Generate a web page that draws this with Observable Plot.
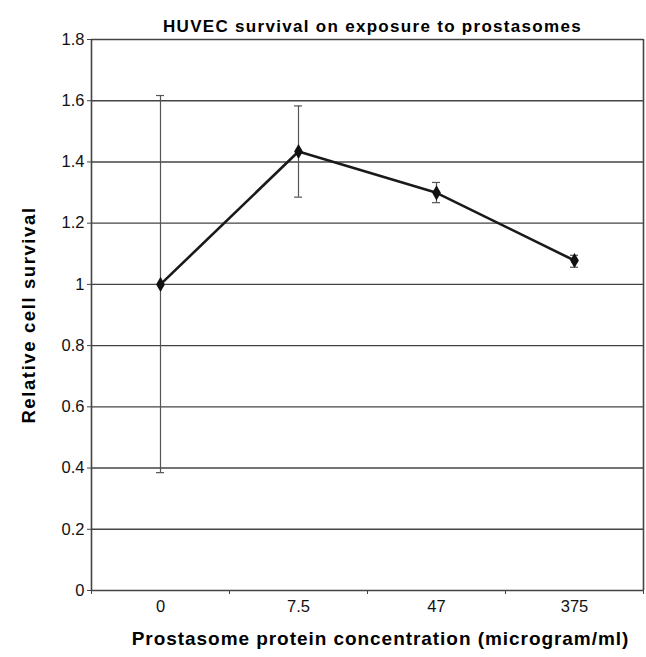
<!DOCTYPE html>
<html>
<head>
<meta charset="utf-8">
<script src="https://cdn.jsdelivr.net/npm/d3@7"></script>
<script src="https://cdn.jsdelivr.net/npm/@observablehq/plot@0.6"></script>
<style>
  html, body { margin: 0; padding: 0; background: #fff; }
  #chart svg { display: block; }
</style>
</head>
<body>
<div id="chart"></div>
<script>
const categories = ["0", "7.5", "47", "375"];
const survival = [1.0, 1.434, 1.299, 1.078];
const errLow = [0.385, 1.285, 1.267, 1.056];
const errHigh = [1.617, 1.583, 1.333, 1.095];
const yTicks = [0, 0.2, 0.4, 0.6, 0.8, 1, 1.2, 1.4, 1.6, 1.8];
const boundaryTicks = [-0.5, 0.5, 1.5, 2.5, 3.5];
const titleText = "HUVEC survival on exposure to prostasomes";
const xLabelText = "Prostasome protein concentration (microgram/ml)";
const yLabelText = "Relative cell survival";

const data = categories.map((c, i) => ({
  i, cat: c, y: survival[i], lo: errLow[i], hi: errHigh[i]
}));

const gray = "#444";
const font = "'Liberation Sans', Arial, sans-serif";

const chart = Plot.plot({
  width: 646,
  height: 657,
  marginLeft: 91,
  marginRight: 3,
  marginTop: 39,
  marginBottom: 67,
  style: { fontFamily: font, fontSize: "16px", color: "#111", background: "#fff" },
  x: { type: "linear", domain: [-0.5, 3.5] },
  y: { domain: [0, 1.8] },
  marks: [
    Plot.ruleY(yTicks, { stroke: gray, strokeWidth: 1.4 }),
    Plot.ruleX([-0.5], { stroke: gray, strokeWidth: 1.6 }),
    Plot.ruleX([3.5], { stroke: gray, strokeWidth: 1.6 }),
    Plot.axisY({
      ticks: yTicks, tickSize: 4, tickPadding: 3, stroke: gray,
      tickFormat: d => String(+d.toFixed(1)),
      label: null, fontSize: 16.5, fill: "#111"
    }),
    Plot.axisX({ ticks: boundaryTicks, tickSize: 4, tickFormat: () => "", stroke: gray, label: null }),
    Plot.axisX({ ticks: d3.range(categories.length), tickSize: 0, tickPadding: 10,
      tickFormat: i => categories[i], label: null, fontSize: 16.5, fill: "#111" }),
    Plot.ruleX(data, { x: "i", y1: "lo", y2: "hi", stroke: "#555", strokeWidth: 1.2 }),
    Plot.ruleY(data, { x1: "i", x2: "i", y: "lo", insetLeft: -4, insetRight: -4, stroke: "#555", strokeWidth: 1.2 }),
    Plot.ruleY(data, { x1: "i", x2: "i", y: "hi", insetLeft: -4, insetRight: -4, stroke: "#555", strokeWidth: 1.2 }),
    Plot.line(data, { x: "i", y: "y", stroke: "#1a1a1a", strokeWidth: 2.6 }),
    Plot.dot(data, { x: "i", y: "y", symbol: "diamond", r: 4.6, fill: "#111", stroke: "none" }),
    Plot.text([titleText], {
      frameAnchor: "top", dy: -20, dx: 5, text: d => d, fontWeight: "bold", fontSize: 17, fill: "#000"
    }),
    Plot.text([xLabelText], {
      frameAnchor: "bottom", dy: 54, dx: 13, text: d => d, fontWeight: "bold", fontSize: 19, fill: "#000"
    }),
    Plot.text([yLabelText], {
      frameAnchor: "left", textAnchor: "middle", dx: -62, rotate: -90, text: d => d,
      fontWeight: "bold", fontSize: 18.5, fill: "#000"
    })
  ]
});

const spacing = new Map([[titleText, "1.3px"], [xLabelText, "0.95px"], [yLabelText, "1.6px"]]);
d3.select(chart).selectAll("text").each(function () {
  const s = spacing.get(this.textContent);
  if (s) this.setAttribute("letter-spacing", s);
});

document.getElementById("chart").appendChild(chart);
</script>
</body>
</html>
